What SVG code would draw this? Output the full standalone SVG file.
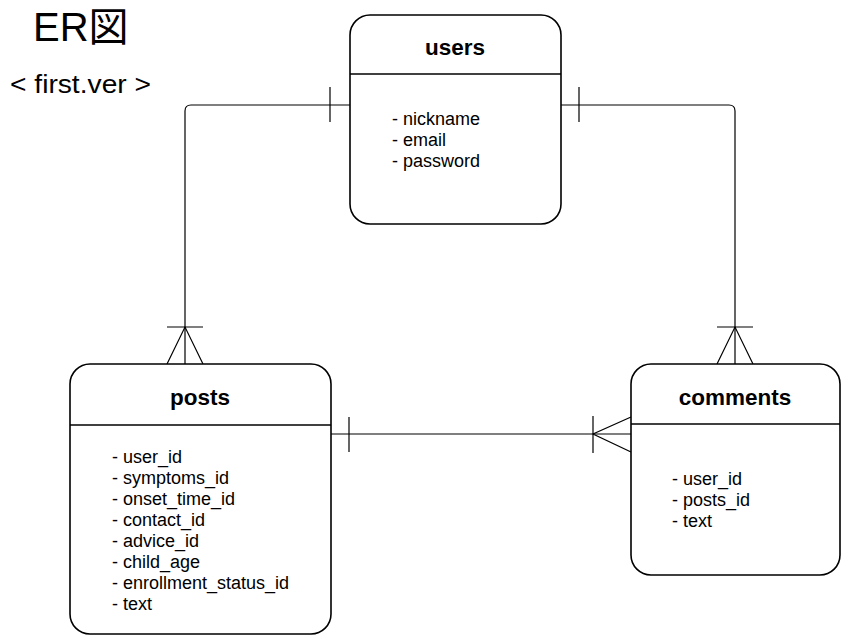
<svg xmlns="http://www.w3.org/2000/svg" width="842" height="636" viewBox="0 0 842 636">
<style>
.box{fill:#fff;stroke:#000;stroke-width:1.6}
.div{stroke:#000;stroke-width:1.6}
.ttl{font-family:"Liberation Sans",Arial,sans-serif;font-weight:bold;font-size:22.5px;text-anchor:middle;fill:#000}
.itm{font-family:"Liberation Sans",Arial,sans-serif;font-size:18px;fill:#000}
.con{fill:none;stroke:#000;stroke-width:1.2}
.tick{fill:none;stroke:#000;stroke-width:1.2}
</style>
<rect width="842" height="636" fill="#fff"/>
<g id="heading">
<text x="33" y="41" font-family="'Liberation Sans','Noto Sans CJK JP',sans-serif" font-size="40px">ER図</text>
<text x="10" y="93" font-family="'Liberation Sans',Arial,sans-serif" font-size="25px" textLength="141" lengthAdjust="spacingAndGlyphs">&lt; first.ver &gt;</text>
</g>
<g id="connectors">
<path class="con" d="M350,105 H191 Q185,105 185,111 V364"/>
<path class="tick" d="M330,87 V122 M167,327 H203 M167,364 L185,327 L203,364"/>
<path class="con" d="M561,105 H729 Q735,105 735,111 V364"/>
<path class="tick" d="M579,87 V122 M717,327 H753 M717,364 L735,327 L753,364"/>
<path class="con" d="M331,434 H631"/>
<path class="tick" d="M349,417 V452 M593,416 V453 M631,417 L593,434 L631,452"/>
</g>
<g id="users">
<rect class="box" x="350" y="15" width="211" height="209" rx="20"/>
<line class="div" x1="350" y1="74" x2="561" y2="74"/>
<text class="ttl" x="455" y="55">users</text>
<text class="itm" x="392" y="125">- nickname</text>
<text class="itm" x="392" y="146">- email</text>
<text class="itm" x="392" y="167">- password</text>
</g>
<g id="posts">
<rect class="box" x="70" y="364" width="261" height="270" rx="20"/>
<line class="div" x1="70" y1="425" x2="331" y2="425"/>
<text class="ttl" x="200" y="405">posts</text>
<text class="itm" x="112" y="463">- user_id</text>
<text class="itm" x="112" y="484">- symptoms_id</text>
<text class="itm" x="112" y="505">- onset_time_id</text>
<text class="itm" x="112" y="526">- contact_id</text>
<text class="itm" x="112" y="547">- advice_id</text>
<text class="itm" x="112" y="568">- child_age</text>
<text class="itm" x="112" y="589">- enrollment_status_id</text>
<text class="itm" x="112" y="610">- text</text>
</g>
<g id="comments">
<rect class="box" x="631" y="364" width="209" height="211" rx="20"/>
<line class="div" x1="631" y1="424" x2="840" y2="424"/>
<text class="ttl" x="735" y="405">comments</text>
<text class="itm" x="672" y="485">- user_id</text>
<text class="itm" x="672" y="506">- posts_id</text>
<text class="itm" x="672" y="527">- text</text>
</g>
</svg>
